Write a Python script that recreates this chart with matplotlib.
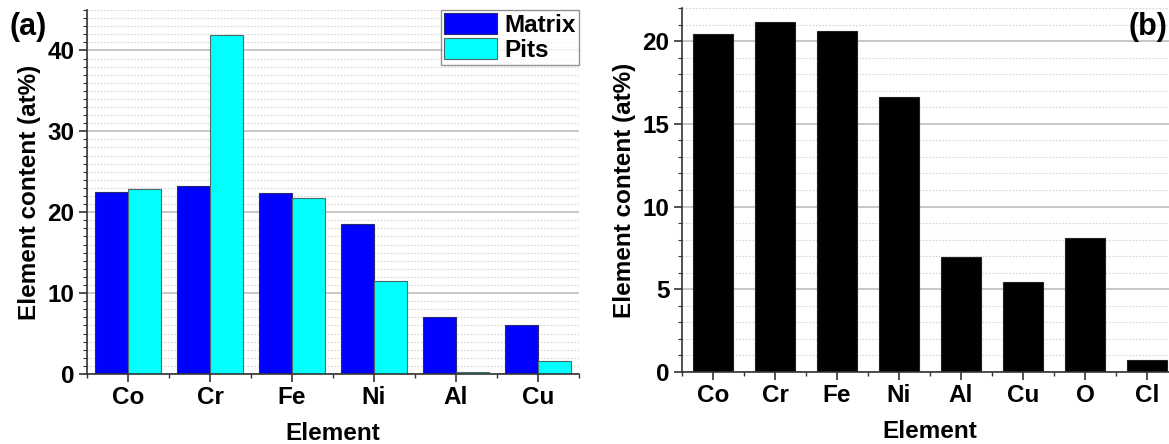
import numpy as np
import matplotlib
matplotlib.use("Agg")
import matplotlib.pyplot as plt
from matplotlib.ticker import MultipleLocator

plt.rcParams['font.family'] = ['Liberation Sans', 'DejaVu Sans']
plt.rcParams['font.weight'] = 'bold'

elements_a = ["Co", "Cr", "Fe", "Ni", "Al", "Cu"]
matrix = [22.5, 23.2, 22.4, 18.6, 7.1, 6.1]
pits = [22.9, 41.9, 21.8, 11.5, 0.25, 1.6]

elements_b = ["Co", "Cr", "Fe", "Ni", "Al", "Cu", "O", "Cl"]
content_b = [20.4, 21.15, 20.6, 16.65, 6.95, 5.45, 8.1, 0.7]

fig = plt.figure(figsize=(11.69, 4.44), dpi=100)
ax1 = fig.add_axes([0.0744, 0.1577, 0.4209, 0.8198])
ax2 = fig.add_axes([0.5834, 0.1622, 0.4243, 0.8198])


def style(ax, ymax, major):
    ax.set_ylim(0, ymax)
    ax.yaxis.set_major_locator(MultipleLocator(major))
    ax.yaxis.set_minor_locator(MultipleLocator(1))
    ax.grid(axis="y", which="major", color="#bdbdbd", linewidth=1.2, linestyle="-")
    ax.grid(axis="y", which="minor", color="#d4d4d4", linewidth=0.8, linestyle=(0, (1.5, 1.5)))
    ax.set_axisbelow(True)
    for s in ["top", "right"]:
        ax.spines[s].set_visible(False)
    for s in ["left", "bottom"]:
        ax.spines[s].set_color("#333333")
        ax.spines[s].set_linewidth(1.2)
    ax.tick_params(axis="both", which="major", direction="out", length=6, width=1.2,
                   labelsize=17.5, colors="#333333", labelcolor="black", pad=3)
    ax.tick_params(axis="y", which="minor", direction="out", length=3, width=0.8, colors="#333333")
    ax.tick_params(axis="x", which="minor", direction="out", length=3, width=1.0, colors="#333333")
    ax.set_xlabel("Element", fontsize=17.5, fontweight="bold", labelpad=9)
    ax.set_ylabel("Element content (at%)", fontsize=17.5, fontweight="bold", labelpad=5)
    for lab in ax.get_xticklabels() + ax.get_yticklabels():
        lab.set_fontweight("bold")


# panel (a)
x = np.arange(len(elements_a))
w = 0.4
ax1.bar(x - w / 2, matrix, w, color="#0000ff", edgecolor="#2a2a6a", linewidth=0.8, label="Matrix")
ax1.bar(x + w / 2, pits, w, color="#00ffff", edgecolor="#4a6a6a", linewidth=0.8, label="Pits")
ax1.set_xlim(-0.5, len(elements_a) - 0.5)
ax1.set_xticks(x)
ax1.set_xticklabels(elements_a)
ax1.set_xticks(np.arange(-0.5, len(elements_a), 1.0), minor=True)
style(ax1, 45, 10)
leg = ax1.legend(loc="upper right", fontsize=17.5, frameon=True, fancybox=False,
                 edgecolor="#777777", borderaxespad=0, borderpad=0.12,
                 handlelength=2.2, handleheight=0.95, labelspacing=0.05,
                 handletextpad=0.3)
leg.get_frame().set_linewidth(1.0)
for t in leg.get_texts():
    t.set_fontweight("bold")
fig.text(0.008, 0.94, "(a)", fontsize=22, fontweight="bold", ha="left", va="center")

# panel (b)
xb = np.arange(len(elements_b))
ax2.bar(xb, content_b, 0.65, color="black", edgecolor="#222222", linewidth=0.8)
ax2.set_xlim(-0.5, len(elements_b) - 0.5)
ax2.set_xticks(xb)
ax2.set_xticklabels(elements_b)
ax2.set_xticks(np.arange(-0.5, len(elements_b), 1.0), minor=True)
style(ax2, 22, 5)
fig.text(0.999, 0.94, "(b)", fontsize=22, fontweight="bold", ha="right", va="center")

fig.savefig("out.png", dpi=100)
